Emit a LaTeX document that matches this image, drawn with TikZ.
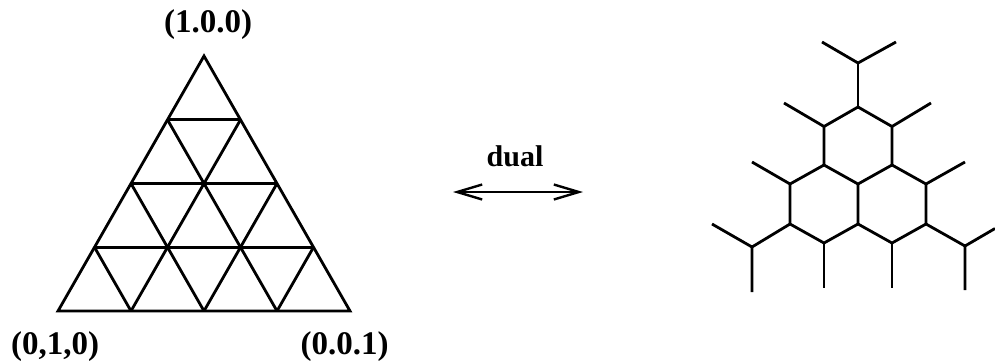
\documentclass[tikz,border=0pt]{standalone}
\usepackage{fontspec}
\setmainfont{Liberation Serif}
\usetikzlibrary{arrows.meta}
\begin{document}
\begin{tikzpicture}[x=1pt,y=-1pt,
  edge/.style={line width=2.8pt, line join=miter},
  lbl/.style={inner sep=0pt, font=\fontsize{33}{38}\selectfont\bfseries},
  duallbl/.style={inner sep=0pt, font=\fontsize{30}{36}\selectfont\bfseries},
  dualarrow/.style={line width=2.6pt, {Straight Barb[length=25pt,width=15pt,line width=2.4pt]}-{Straight Barb[length=25pt,width=15pt,line width=2.4pt]}}]
\useasboundingbox (0,0) rectangle (995,362);
% triangle lattice points
\foreach \i in {0,...,4}{
  \foreach \j in {0,...,\i}{
    \coordinate (t-\i-\j) at ({204-36.5*\i+73*\j},{56+63.75*\i});
  }
}
\draw[edge] (t-0-0) -- (t-4-0) -- (t-4-4) -- cycle;
\foreach \i in {1,2,3}{
  \draw[edge] (t-\i-0) -- (t-\i-\i);
}
\foreach \j in {1,2,3}{
  \draw[edge] (t-4-\j) -- (t-\j-\j);
}
\foreach \k/\m in {1/3,2/2,3/1}{
  \draw[edge] (t-\k-0) -- (t-4-\m);
}
\node[lbl] (v100) at (208,25) {(1.0.0)};
\node[lbl] (v010) at (55,347) {(0,1,0)};
\node[lbl] (v001) at (344.5,347) {(0.0.1)};
% dual arrow
\node[duallbl] (dual) at (515,156) {dual};
\coordinate (al) at (453,192);
\coordinate (ar) at (583,192);
\draw[dualarrow] (al) -- (ar);
% honeycomb
\coordinate (T0) at (858,63);
\coordinate (Ta) at (822,42);
\coordinate (Tb) at (896,42);
\coordinate (h1) at (858,107);
\coordinate (h2) at (892,126.5);
\coordinate (h3) at (892,165);
\coordinate (h4) at (858,184);
\coordinate (h5) at (824,165);
\coordinate (h6) at (824,126.5);
\coordinate (l1) at (790,184);
\coordinate (l2) at (790,224);
\coordinate (l3) at (824,243);
\coordinate (l4) at (858,224);
\coordinate (r1) at (926,184);
\coordinate (r2) at (926,224);
\coordinate (r3) at (892,243);
\coordinate (LY) at (752,247);
\coordinate (RY) at (965,246);
\coordinate (e1) at (784,103);
\coordinate (e2) at (931,103);
\coordinate (e3) at (752,162);
\coordinate (e4) at (965,162);
\coordinate (e5) at (712,224);
\coordinate (e6) at (752,292);
\coordinate (e7) at (995,228.5);
\coordinate (e8) at (965,290);
\coordinate (e9) at (824,288);
\coordinate (e10) at (892,288);
\draw[edge] (h1) -- (h2) -- (h3) -- (h4) -- (h5) -- (h6) -- cycle;
\draw[edge] (h5) -- (l1) -- (l2) -- (l3) -- (l4) -- (h4);
\draw[edge] (l4) -- (r3) -- (r2) -- (r1) -- (h3);
\draw[edge] (Ta) -- (T0) -- (Tb);
\draw[edge] (T0) -- (h1);
\draw[edge] (h6) -- (e1);
\draw[edge] (h2) -- (e2);
\draw[edge] (l1) -- (e3);
\draw[edge] (r1) -- (e4);
\draw[edge] (l2) -- (LY);
\draw[edge] (e5) -- (LY) -- (e6);
\draw[edge] (r2) -- (RY);
\draw[edge] (e7) -- (RY) -- (e8);
\draw[edge] (l3) -- (e9);
\draw[edge] (r3) -- (e10);
\end{tikzpicture}
\end{document}
